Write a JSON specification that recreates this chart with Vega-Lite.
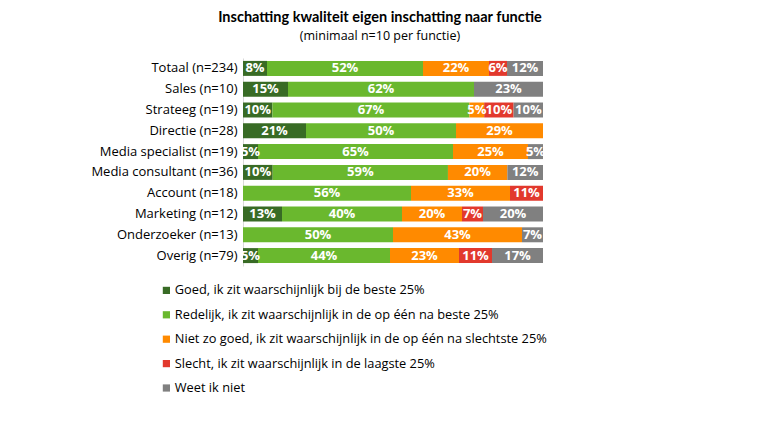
{
  "$schema": "https://vega.github.io/schema/vega-lite/v6.json",
  "autosize": "none",
  "width": 300,
  "height": 208,
  "padding": {"left": 243, "top": 58, "right": 217, "bottom": 162},
  "background": "white",
  "config": {"font": "Open Sans", "view": {"stroke": null}},
  "title": {
    "text": "Inschatting kwaliteit eigen inschatting naar functie",
    "subtitle": "(minimaal n=10 per functie)",
    "anchor": "middle",
    "dx": -13,
    "offset": 15,
    "font": "Lato",
    "fontSize": 14.5,
    "fontWeight": "bold",
    "color": "#000000",
    "subtitleFont": "Open Sans",
    "subtitleFontSize": 12.5,
    "subtitleColor": "#000000",
    "subtitlePadding": 4
  },
  "data": {
    "values": [
      {"functie": "Totaal (n=234)", "cat": "Goed, ik zit waarschijnlijk bij de beste 25%", "o": 1, "v": 0.08},
      {"functie": "Totaal (n=234)", "cat": "Redelijk, ik zit waarschijnlijk in de op één na beste 25%", "o": 2, "v": 0.52},
      {"functie": "Totaal (n=234)", "cat": "Niet zo goed, ik zit waarschijnlijk in de op één na slechtste 25%", "o": 3, "v": 0.22},
      {"functie": "Totaal (n=234)", "cat": "Slecht, ik zit waarschijnlijk in de laagste 25%", "o": 4, "v": 0.06},
      {"functie": "Totaal (n=234)", "cat": "Weet ik niet", "o": 5, "v": 0.12},
      {"functie": "Sales (n=10)", "cat": "Goed, ik zit waarschijnlijk bij de beste 25%", "o": 1, "v": 0.15},
      {"functie": "Sales (n=10)", "cat": "Redelijk, ik zit waarschijnlijk in de op één na beste 25%", "o": 2, "v": 0.62},
      {"functie": "Sales (n=10)", "cat": "Weet ik niet", "o": 5, "v": 0.23},
      {"functie": "Strateeg (n=19)", "cat": "Goed, ik zit waarschijnlijk bij de beste 25%", "o": 1, "v": 0.10},
      {"functie": "Strateeg (n=19)", "cat": "Redelijk, ik zit waarschijnlijk in de op één na beste 25%", "o": 2, "v": 0.67},
      {"functie": "Strateeg (n=19)", "cat": "Niet zo goed, ik zit waarschijnlijk in de op één na slechtste 25%", "o": 3, "v": 0.05},
      {"functie": "Strateeg (n=19)", "cat": "Slecht, ik zit waarschijnlijk in de laagste 25%", "o": 4, "v": 0.10},
      {"functie": "Strateeg (n=19)", "cat": "Weet ik niet", "o": 5, "v": 0.10},
      {"functie": "Directie (n=28)", "cat": "Goed, ik zit waarschijnlijk bij de beste 25%", "o": 1, "v": 0.21},
      {"functie": "Directie (n=28)", "cat": "Redelijk, ik zit waarschijnlijk in de op één na beste 25%", "o": 2, "v": 0.50},
      {"functie": "Directie (n=28)", "cat": "Niet zo goed, ik zit waarschijnlijk in de op één na slechtste 25%", "o": 3, "v": 0.29},
      {"functie": "Media specialist (n=19)", "cat": "Goed, ik zit waarschijnlijk bij de beste 25%", "o": 1, "v": 0.05},
      {"functie": "Media specialist (n=19)", "cat": "Redelijk, ik zit waarschijnlijk in de op één na beste 25%", "o": 2, "v": 0.65},
      {"functie": "Media specialist (n=19)", "cat": "Niet zo goed, ik zit waarschijnlijk in de op één na slechtste 25%", "o": 3, "v": 0.25},
      {"functie": "Media specialist (n=19)", "cat": "Weet ik niet", "o": 5, "v": 0.05},
      {"functie": "Media consultant (n=36)", "cat": "Goed, ik zit waarschijnlijk bij de beste 25%", "o": 1, "v": 0.10},
      {"functie": "Media consultant (n=36)", "cat": "Redelijk, ik zit waarschijnlijk in de op één na beste 25%", "o": 2, "v": 0.59},
      {"functie": "Media consultant (n=36)", "cat": "Niet zo goed, ik zit waarschijnlijk in de op één na slechtste 25%", "o": 3, "v": 0.20},
      {"functie": "Media consultant (n=36)", "cat": "Weet ik niet", "o": 5, "v": 0.12},
      {"functie": "Account (n=18)", "cat": "Redelijk, ik zit waarschijnlijk in de op één na beste 25%", "o": 2, "v": 0.56},
      {"functie": "Account (n=18)", "cat": "Niet zo goed, ik zit waarschijnlijk in de op één na slechtste 25%", "o": 3, "v": 0.33},
      {"functie": "Account (n=18)", "cat": "Slecht, ik zit waarschijnlijk in de laagste 25%", "o": 4, "v": 0.11},
      {"functie": "Marketing (n=12)", "cat": "Goed, ik zit waarschijnlijk bij de beste 25%", "o": 1, "v": 0.13},
      {"functie": "Marketing (n=12)", "cat": "Redelijk, ik zit waarschijnlijk in de op één na beste 25%", "o": 2, "v": 0.40},
      {"functie": "Marketing (n=12)", "cat": "Niet zo goed, ik zit waarschijnlijk in de op één na slechtste 25%", "o": 3, "v": 0.20},
      {"functie": "Marketing (n=12)", "cat": "Slecht, ik zit waarschijnlijk in de laagste 25%", "o": 4, "v": 0.07},
      {"functie": "Marketing (n=12)", "cat": "Weet ik niet", "o": 5, "v": 0.20},
      {"functie": "Onderzoeker (n=13)", "cat": "Redelijk, ik zit waarschijnlijk in de op één na beste 25%", "o": 2, "v": 0.50},
      {"functie": "Onderzoeker (n=13)", "cat": "Niet zo goed, ik zit waarschijnlijk in de op één na slechtste 25%", "o": 3, "v": 0.43},
      {"functie": "Onderzoeker (n=13)", "cat": "Weet ik niet", "o": 5, "v": 0.07},
      {"functie": "Overig (n=79)", "cat": "Goed, ik zit waarschijnlijk bij de beste 25%", "o": 1, "v": 0.05},
      {"functie": "Overig (n=79)", "cat": "Redelijk, ik zit waarschijnlijk in de op één na beste 25%", "o": 2, "v": 0.44},
      {"functie": "Overig (n=79)", "cat": "Niet zo goed, ik zit waarschijnlijk in de op één na slechtste 25%", "o": 3, "v": 0.23},
      {"functie": "Overig (n=79)", "cat": "Slecht, ik zit waarschijnlijk in de laagste 25%", "o": 4, "v": 0.11},
      {"functie": "Overig (n=79)", "cat": "Weet ik niet", "o": 5, "v": 0.17}
    ]
  },
  "encoding": {
    "y": {
      "field": "functie",
      "type": "nominal",
      "sort": null,
      "scale": {"paddingInner": 0.28, "paddingOuter": 0.14},
      "axis": {
        "title": null,
        "ticks": false,
        "domain": true,
        "domainColor": "#d9d9d9",
        "labelFontSize": 13,
        "labelColor": "#000000",
        "labelPadding": 6
      }
    }
  },
  "layer": [
    {
      "mark": {"type": "bar"},
      "encoding": {
        "x": {"field": "v", "type": "quantitative", "stack": "normalize", "axis": null},
        "order": {"field": "o", "type": "quantitative"},
        "color": {
          "field": "cat",
          "type": "nominal",
          "sort": [
            "Goed, ik zit waarschijnlijk bij de beste 25%",
            "Redelijk, ik zit waarschijnlijk in de op één na beste 25%",
            "Niet zo goed, ik zit waarschijnlijk in de op één na slechtste 25%",
            "Slecht, ik zit waarschijnlijk in de laagste 25%",
            "Weet ik niet"
          ],
          "scale": {
            "domain": [
              "Goed, ik zit waarschijnlijk bij de beste 25%",
              "Redelijk, ik zit waarschijnlijk in de op één na beste 25%",
              "Niet zo goed, ik zit waarschijnlijk in de op één na slechtste 25%",
              "Slecht, ik zit waarschijnlijk in de laagste 25%",
              "Weet ik niet"
            ],
            "range": ["#386b25", "#6ab82e", "#ff8a00", "#e2392d", "#808080"]
          },
          "legend": {
            "title": null,
            "orient": "none",
            "legendX": -83,
            "legendY": 226,
            "direction": "vertical",
            "symbolType": "square",
            "symbolSize": 52,
            "symbolStrokeWidth": 0,
            "labelFontSize": 12.8,
            "labelColor": "#000000",
            "labelOffset": 2,
            "labelLimit": 500,
            "rowPadding": 10.4
          }
        }
      }
    },
    {
      "mark": {"type": "text", "color": "white", "fontWeight": "bold", "fontSize": 13, "align": "center", "baseline": "middle"},
      "encoding": {
        "x": {"field": "v", "type": "quantitative", "stack": "normalize", "bandPosition": 0.5},
        "order": {"field": "o", "type": "quantitative"},
        "detail": {"field": "cat", "type": "nominal"},
        "text": {"field": "v", "type": "quantitative", "format": ".0%"}
      }
    }
  ]
}
